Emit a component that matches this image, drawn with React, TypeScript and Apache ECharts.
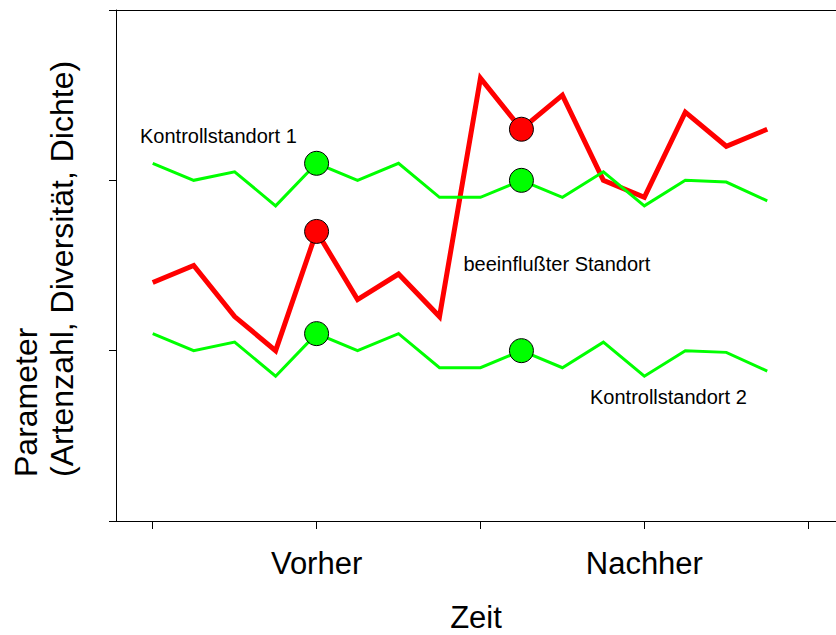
import React, { useEffect, useRef } from "react";
import * as echarts from "echarts";

const timePoints = [0, 1, 2, 3, 4, 5, 6, 7, 8, 9, 10, 11, 12, 13, 14, 15];
const kontroll1 = [2.1, 2.0, 2.05, 1.85, 2.1, 2.0, 2.1, 1.9, 1.9, 2.0, 1.9, 2.05, 1.85, 2.0, 1.99, 1.88];
const kontroll2 = [1.1, 1.0, 1.05, 0.85, 1.1, 1.0, 1.1, 0.9, 0.9, 1.0, 0.9, 1.05, 0.85, 1.0, 0.99, 0.88];
const beeinflusst = [1.4, 1.5, 1.2, 1.0, 1.7, 1.3, 1.45, 1.2, 2.6, 2.3, 2.5, 2.0, 1.9, 2.4, 2.2, 2.3];
const markedPoints = [4, 9];
const phaseTicks = [0, 4, 8, 12, 16];
const phaseLabelPos = [4, 12];
const phaseLabels = ["Vorher", "Nachher"];
const yTicks = [0, 1, 2, 3];

const FONT = "'Liberation Sans', Arial, Helvetica, sans-serif";

function pairs(vals: number[]) {
  return timePoints.map((t, i) => [t, vals[i]]);
}

function lineSeries(name: string, vals: number[], color: string, width: number, z: number) {
  return {
    name,
    type: "line",
    data: pairs(vals),
    z,
    symbol: "circle",
    showSymbol: true,
    showAllSymbol: true,
    symbolSize: (_v: any, p: any) => (markedPoints.includes(p.dataIndex) ? 24 : 0),
    itemStyle: { color, borderColor: "#000", borderWidth: 1 },
    lineStyle: { color, width, join: "miter", cap: "butt" },
    emphasis: { disabled: true },
  };
}

export default function App() {
  const ref = useRef<HTMLDivElement>(null);
  useEffect(() => {
    if (!ref.current) return;
    const chart = echarts.init(ref.current, null, { renderer: "svg" });
    const xMin = -0.896;
    const xMax = 16.678;
    chart.setOption({
      animation: false,
      backgroundColor: "#fff",
      grid: { left: 116, right: 0, top: 10, bottom: 114, containLabel: false, outerBoundsMode: "none" },
      xAxis: [
        {
          type: "value",
          min: xMin,
          max: xMax,
          position: "bottom",
          splitLine: { show: false },
          axisLine: { show: true, onZero: false, lineStyle: { color: "#000", width: 1 } },
          axisTick: { show: true, length: 8, customValues: phaseTicks, lineStyle: { color: "#000" } },
          axisLabel: {
            show: true,
            customValues: phaseLabelPos,
            formatter: (v: number) => phaseLabels[phaseLabelPos.indexOf(Math.round(v))] ?? "",
            fontSize: 31,
            fontFamily: FONT,
            color: "#000",
            margin: 27,
          },
          name: "Zeit",
          nameLocation: "middle",
          nameGap: 82,
          nameTextStyle: { fontSize: 31, lineHeight: 28, fontFamily: FONT, color: "#000" },
        },
        {
          type: "value",
          min: xMin,
          max: xMax,
          position: "top",
          splitLine: { show: false },
          axisLine: { show: true, onZero: false, lineStyle: { color: "#000", width: 1 } },
          axisTick: { show: false },
          axisLabel: { show: false },
        },
      ],
      yAxis: {
        type: "value",
        min: yTicks[0],
        max: yTicks[yTicks.length - 1],
        interval: 1,
        splitLine: { show: false },
        axisLine: { show: true, onZero: false, lineStyle: { color: "#000", width: 1 } },
        axisTick: { show: true, length: 7, lineStyle: { color: "#000" } },
        axisLabel: { show: false },
      },
      graphic: [
        {
          type: "text",
          x: 8,
          y: 477,
          rotation: Math.PI / 2,
          style: {
            text: "Parameter\n(Artenzahl, Diversität, Dichte)",
            fill: "#000",
            fontSize: 32,
            fontFamily: FONT,
            lineHeight: 36,
            textAlign: "left",
            textVerticalAlign: "top",
          },
        },
        {
          type: "text",
          x: 140,
          y: 136.4,
          style: { text: "Kontrollstandort 1", fill: "#000", fontSize: 20, fontFamily: FONT, textAlign: "left", textVerticalAlign: "middle" },
        },
        {
          type: "text",
          x: 463.5,
          y: 264.4,
          style: { text: "beeinflußter Standort", fill: "#000", fontSize: 20, fontFamily: FONT, textAlign: "left", textVerticalAlign: "middle" },
        },
        {
          type: "text",
          x: 590,
          y: 397.1,
          style: { text: "Kontrollstandort 2", fill: "#000", fontSize: 20, fontFamily: FONT, textAlign: "left", textVerticalAlign: "middle" },
        },
      ],
      series: [
        lineSeries("Kontrollstandort 2", kontroll2, "#00ff00", 3, 2),
        lineSeries("beeinflußter Standort", beeinflusst, "#ff0000", 5, 3),
        lineSeries("Kontrollstandort 1", kontroll1, "#00ff00", 3, 4),
      ],
    });
    return () => chart.dispose();
  }, []);
  return (
    <div
      ref={ref}
      style={{ position: "fixed", left: 0, top: 0, width: 836, height: 635, background: "#fff" }}
    />
  );
}
